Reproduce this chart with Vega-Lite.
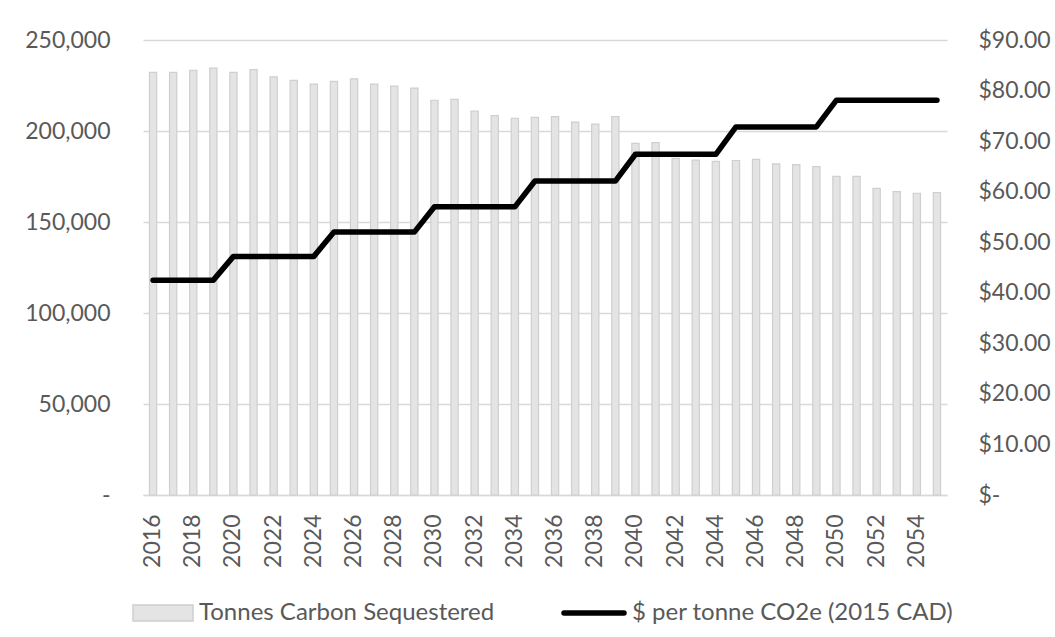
{
  "$schema": "https://vega.github.io/schema/vega-lite/v6.json",
  "width": 804,
  "height": 455,
  "autosize": "none",
  "padding": {"left": 143, "top": 40, "right": 108, "bottom": 142},
  "background": "white",
  "config": {
    "view": {"stroke": null},
    "font": "Lato",
    "axis": {"labelFont": "Lato", "labelFontSize": 23, "labelColor": "#595959"},
    "legend": {"labelFont": "Lato", "labelFontSize": 24, "labelColor": "#595959", "padding": 0, "labelLimit": 500}
  },
  "data": {
    "values": [
      {"year": 2016, "tonnes": 232250, "price": 42.5},
      {"year": 2017, "tonnes": 232250, "price": 42.5},
      {"year": 2018, "tonnes": 233300, "price": 42.5},
      {"year": 2019, "tonnes": 234600, "price": 42.5},
      {"year": 2020, "tonnes": 232200, "price": 47.2},
      {"year": 2021, "tonnes": 233700, "price": 47.2},
      {"year": 2022, "tonnes": 229700, "price": 47.2},
      {"year": 2023, "tonnes": 227800, "price": 47.2},
      {"year": 2024, "tonnes": 225800, "price": 47.2},
      {"year": 2025, "tonnes": 227300, "price": 52.0},
      {"year": 2026, "tonnes": 228650, "price": 52.0},
      {"year": 2027, "tonnes": 225800, "price": 52.0},
      {"year": 2028, "tonnes": 224700, "price": 52.0},
      {"year": 2029, "tonnes": 223600, "price": 52.0},
      {"year": 2030, "tonnes": 216900, "price": 57.0},
      {"year": 2031, "tonnes": 217400, "price": 57.0},
      {"year": 2032, "tonnes": 211000, "price": 57.0},
      {"year": 2033, "tonnes": 208400, "price": 57.0},
      {"year": 2034, "tonnes": 207000, "price": 57.0},
      {"year": 2035, "tonnes": 207500, "price": 62.1},
      {"year": 2036, "tonnes": 207900, "price": 62.1},
      {"year": 2037, "tonnes": 204900, "price": 62.1},
      {"year": 2038, "tonnes": 203800, "price": 62.1},
      {"year": 2039, "tonnes": 207900, "price": 62.1},
      {"year": 2040, "tonnes": 193200, "price": 67.4},
      {"year": 2041, "tonnes": 193600, "price": 67.4},
      {"year": 2042, "tonnes": 185000, "price": 67.4},
      {"year": 2043, "tonnes": 184000, "price": 67.4},
      {"year": 2044, "tonnes": 183300, "price": 67.4},
      {"year": 2045, "tonnes": 183800, "price": 72.8},
      {"year": 2046, "tonnes": 184400, "price": 72.8},
      {"year": 2047, "tonnes": 181900, "price": 72.8},
      {"year": 2048, "tonnes": 181500, "price": 72.8},
      {"year": 2049, "tonnes": 180400, "price": 72.8},
      {"year": 2050, "tonnes": 175100, "price": 78.1},
      {"year": 2051, "tonnes": 175100, "price": 78.1},
      {"year": 2052, "tonnes": 168500, "price": 78.1},
      {"year": 2053, "tonnes": 166700, "price": 78.1},
      {"year": 2054, "tonnes": 165800, "price": 78.1},
      {"year": 2055, "tonnes": 166100, "price": 78.1}
    ]
  },
  "encoding": {
    "x": {
      "field": "year",
      "type": "ordinal",
      "scale": {"paddingInner": 0.64, "paddingOuter": 0.32},
      "axis": {
        "title": null,
        "values": [2016, 2018, 2020, 2022, 2024, 2026, 2028, 2030, 2032, 2034, 2036, 2038, 2040, 2042, 2044, 2046, 2048, 2050, 2052, 2054],
        "labelAngle": -90,
        "ticks": false,
        "grid": false,
        "domainColor": "#d9d9d9",
        "domainWidth": 1.5,
        "labelPadding": 19
      }
    }
  },
  "layer": [
    {
      "mark": {"type": "bar", "stroke": "#d0cece", "strokeWidth": 1.2},
      "encoding": {
        "y": {
          "field": "tonnes",
          "type": "quantitative",
          "scale": {"domain": [0, 250000], "nice": false},
          "axis": {
            "title": null,
            "values": [0, 50000, 100000, 150000, 200000, 250000],
            "grid": true,
            "gridColor": "#d9d9d9",
            "gridWidth": 1.5,
            "domain": false,
            "ticks": false,
            "labelPadding": 33,
            "labelExpr": "datum.value == 0 ? '-  ' : format(datum.value, ',')"
          }
        },
        "fill": {
          "datum": "Tonnes Carbon Sequestered",
          "type": "nominal",
          "scale": {"range": ["#e4e4e4"]},
          "legend": {
            "orient": "none",
            "legendX": -11,
            "legendY": 542,
            "title": null,
            "symbolType": "M-1,-0.27L1,-0.27L1,0.27L-1,0.27Z",
            "symbolSize": 3600,
            "symbolStrokeColor": "#d0cece",
            "symbolStrokeWidth": 1.5,
            "symbolFillColor": "#e4e4e4",
            "labelOffset": 5
          }
        }
      }
    },
    {
      "mark": {"type": "line", "strokeWidth": 5.5, "strokeCap": "round", "strokeJoin": "round"},
      "encoding": {
        "y": {
          "field": "price",
          "type": "quantitative",
          "scale": {"domain": [0, 90], "nice": false},
          "axis": {
            "orient": "right",
            "title": null,
            "values": [0, 10, 20, 30, 40, 50, 60, 70, 80, 90],
            "grid": false,
            "domain": false,
            "ticks": false,
            "labelPadding": 31,
            "labelExpr": "datum.value == 0 ? '$-' : '$' + format(datum.value, '.2f')"
          }
        },
        "stroke": {
          "datum": "$ per tonne CO2e (2015 CAD)",
          "type": "nominal",
          "scale": {"range": ["#000000"]},
          "legend": {
            "orient": "none",
            "legendX": 418,
            "legendY": 540,
            "title": null,
            "symbolType": "M-1,0L1,0",
            "symbolSize": 3600,
            "symbolStrokeWidth": 5.5,
            "symbolStrokeColor": "#000000",
            "labelOffset": 5,
            "encode": {"symbols": {"update": {"strokeCap": {"value": "round"}}}}
          }
        }
      }
    }
  ],
  "resolve": {"scale": {"y": "independent", "fill": "independent", "stroke": "independent"}}
}
